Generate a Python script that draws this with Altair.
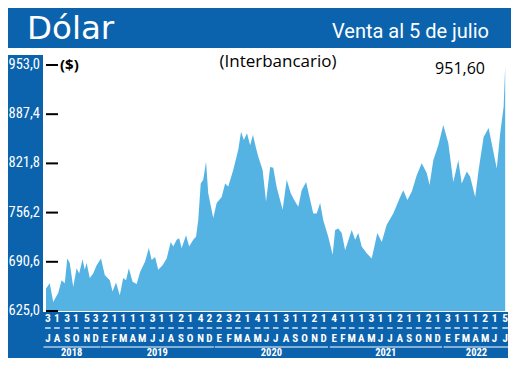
import altair as alt
import pandas as pd

# ---------------- data ----------------
dates = [
    "2018-06-27", "2018-07-09", "2018-07-20", "2018-08-05", "2018-08-16", "2018-08-26",
    "2018-09-03", "2018-09-11", "2018-09-22", "2018-10-03", "2018-10-11", "2018-10-22",
    "2018-10-29", "2018-11-04", "2018-11-14", "2018-11-25", "2018-12-06", "2018-12-20",
    "2019-01-01", "2019-01-17", "2019-01-26", "2019-02-06", "2019-02-18", "2019-03-01",
    "2019-03-10", "2019-03-19", "2019-03-31", "2019-04-13", "2019-04-24", "2019-05-10",
    "2019-05-22", "2019-05-31", "2019-06-11", "2019-06-21", "2019-07-05", "2019-07-18",
    "2019-07-31", "2019-08-08", "2019-08-19", "2019-08-27", "2019-09-04", "2019-09-18",
    "2019-09-28", "2019-10-11", "2019-10-20", "2019-10-27", "2019-11-04", "2019-11-12",
    "2019-11-21", "2019-11-28", "2019-12-14", "2019-12-25", "2020-01-10", "2020-01-21",
    "2020-01-31", "2020-02-16", "2020-03-03", "2020-03-12", "2020-03-21", "2020-03-31",
    "2020-04-10", "2020-04-19", "2020-04-29", "2020-05-06", "2020-05-20", "2020-05-31",
    "2020-06-13", "2020-06-23", "2020-07-04", "2020-07-23", "2020-08-05", "2020-08-18",
    "2020-08-29", "2020-09-11", "2020-09-22", "2020-10-06", "2020-10-17", "2020-10-29",
    "2020-11-09", "2020-11-20", "2020-11-30", "2020-12-16", "2020-12-30", "2021-01-07",
    "2021-01-17", "2021-01-28", "2021-02-08", "2021-03-01", "2021-03-12", "2021-03-22",
    "2021-04-02", "2021-04-18", "2021-05-04", "2021-05-22", "2021-06-05", "2021-06-21",
    "2021-07-12", "2021-08-03", "2021-08-13", "2021-08-26", "2021-09-09", "2021-09-25",
    "2021-10-11", "2021-10-27", "2021-11-05", "2021-11-17", "2021-12-03", "2021-12-19",
    "2022-01-04", "2022-01-20", "2022-02-05", "2022-02-16", "2022-03-04", "2022-03-15",
    "2022-03-31", "2022-04-11", "2022-04-27", "2022-05-13", "2022-05-27", "2022-06-08",
    "2022-06-19", "2022-06-30", "2022-07-05",
]
values = [
    655, 662, 637, 649, 666, 662,
    695, 689, 657, 682, 675, 694,
    680, 689, 669, 675, 686, 695,
    673, 666, 651, 663, 646, 669,
    666, 682, 664, 661, 677, 691,
    709, 693, 697, 680, 686, 695,
    717, 711, 720, 722, 709, 726,
    711, 720, 724, 746, 795, 800,
    824, 782, 749, 769, 777, 795,
    791, 813, 840, 864, 853, 862,
    846, 860, 842, 831, 813, 771,
    817, 816, 790, 760, 800, 782,
    773, 764, 786, 797, 777, 755,
    755, 769, 746, 724, 700, 733,
    735, 729, 706, 733, 720, 729,
    711, 702, 695, 729, 717, 740,
    755, 777, 786, 773, 784, 806,
    822, 809, 793, 826, 846, 873,
    849, 797, 826, 795, 811, 804,
    777, 813, 857, 869, 840, 815,
    862, 897, 951.6,
]

y_ticks = [625.0, 690.6, 756.2, 821.8, 887.4, 953.0]
y_tick_labels = ["625,0", "690,6", "756,2", "821,8", "887,4", "953,0"]

month_years = [2018] * 6 + [2019] * 12 + [2020] * 12 + [2021] * 12 + [2022] * 7
month_nums = list(range(7, 13)) + list(range(1, 13)) * 3 + list(range(1, 8))
month_days = [3, 1, 3, 1, 5, 3,
              2, 1, 1, 1, 1, 3, 1, 1, 2, 1, 4, 2,
              2, 3, 2, 1, 4, 1, 1, 3, 1, 1, 2, 1,
              4, 1, 1, 1, 3, 1, 1, 2, 1, 1, 2, 1,
              3, 1, 1, 1, 2, 1, 5]
month_letters = ["J", "A", "S", "O", "N", "D"] + \
    ["E", "F", "M", "A", "M", "J", "J", "A", "S", "O", "N", "D"] * 3 + \
    ["E", "F", "M", "A", "M", "J", "J"]

title_text = "Dólar"
subtitle_text = "Venta al 5 de julio"
unit_text = "($)"
market_text = "(Interbancario)"
last_text = "951,60"

# ---------------- styling ----------------
BLUE = "#0b63ad"
AREA = "#55b3e4"
NARROW = "Liberation Sans Narrow, Roboto Condensed, DejaVu Sans Condensed, sans-serif"
W, H = 462, 256
Y_LO, Y_HI = 625, 966.3


def y_at(px):
    """value on the shared y scale that lands px pixels below the plot top"""
    return Y_HI - (Y_HI - Y_LO) * px / H


def ms(ts):
    return (ts - pd.Timestamp("1970-01-01")) // pd.Timedelta(milliseconds=1)


series = pd.DataFrame({"date": dates, "value": values})
ticks_df = pd.DataFrame({"v": y_ticks, "lab": y_tick_labels})
months = pd.DataFrame({"year": month_years, "m": month_nums, "day": month_days,
                       "letter": month_letters})
mdates = pd.to_datetime(dict(year=months.year, month=months.m, day=months.day))
months["date"] = mdates.dt.strftime("%Y-%m-%d")
months["digit"] = months["day"].astype(str)
half = pd.Timedelta(days=9)
months["d0"] = ms(mdates - half)
months["d1"] = ms(mdates + half)

g = pd.DataFrame({"year": month_years, "d": mdates}).groupby("year")["d"].agg(["min", "max"])
pad = pd.Timedelta(days=14)
yr = pd.DataFrame({
    "label": g.index.astype(str),
    "mid": (g["min"] + (g["max"] - g["min"]) / 2).dt.strftime("%Y-%m-%d").values,
    "s": ms(g["min"] - pad).values,
    "e": ms(g["max"] + pad).values,
})

xscale = alt.Scale(domain=[alt.DateTime(year=2018, month=6, date=27),
                           alt.DateTime(year=2022, month=7, date=14)])
yscale = alt.Scale(domain=[Y_LO, Y_HI], nice=False, zero=False)

one = pd.DataFrame({"k": [0]})


def rect(x, x2, y, y2, color=BLUE):
    return alt.Chart(one).mark_rect(color=color).encode(
        x=alt.value(x), x2=alt.value(x2), y=alt.value(y), y2=alt.value(y2))


header = rect(-38, 465, -47, -7)
left_strip = rect(-38, -3, 0, 303)
bottom_band = rect(-38, 462, 257, 303)

area = alt.Chart(series).mark_area(color=AREA, clip=True).encode(
    x=alt.X("date:T", scale=xscale,
            axis=alt.Axis(labels=False, ticks=False, grid=False, title=None,
                          domainColor="black", domainWidth=2, zindex=2)),
    y=alt.Y("value:Q", scale=yscale,
            axis=alt.Axis(values=y_ticks, labels=False, ticks=False, grid=False,
                          title=None, domainColor="black", domainWidth=2, zindex=2)),
)

tick_rules = alt.Chart(ticks_df).mark_rule(color="black", strokeWidth=2).encode(
    y=alt.Y("v:Q", scale=yscale, axis=None), x=alt.value(0), x2=alt.value(12))

tick_labels = alt.Chart(ticks_df).mark_text(color="white", font=NARROW, fontSize=14.5,
                                            align="right", baseline="middle").encode(
    y=alt.Y("v:Q", scale=yscale, axis=None), x=alt.value(-6), text="lab:N")

digits = alt.Chart(months).mark_text(color="white", font=NARROW, fontSize=11.5,
                                     fontWeight="bold", baseline="middle").encode(
    x=alt.X("date:T", scale=xscale, axis=None), y=alt.value(264), text="digit:N")

dashes = alt.Chart(months).mark_rule(color="white", strokeWidth=1.3).encode(
    x=alt.X("d0:T", scale=xscale, axis=None), x2="d1",
    y=alt.datum(y_at(273)))

letters = alt.Chart(months).mark_text(color="white", font=NARROW, fontSize=11,
                                      fontWeight="bold", baseline="middle").encode(
    x=alt.X("date:T", scale=xscale, axis=None), y=alt.value(284), text="letter:N")

year_lines = alt.Chart(yr).mark_rule(color="white", strokeWidth=1).encode(
    x=alt.X("s:T", scale=xscale, axis=None), x2="e",
    y=alt.datum(y_at(292)))

year_labels = alt.Chart(yr).mark_text(color="white", font=NARROW, fontSize=10.5,
                                      fontWeight="bold", baseline="middle").encode(
    x=alt.X("mid:T", scale=xscale, axis=None), y=alt.value(298), text="label:N")


def label(text, x, y, size, color="black", align="left", font="Open Sans",
          weight="normal", baseline="middle"):
    return alt.Chart(one).mark_text(text=text, fontSize=size, color=color, align=align,
                                    baseline=baseline, font=font, fontWeight=weight).encode(
        x=alt.value(x), y=alt.value(y))


t_title = label(title_text, -19, -16, 32.5, color="white", font="DejaVu Sans",
                baseline="alphabetic")
t_sub = label(subtitle_text, 443, -17, 20, color="white", align="right", font="Roboto",
              baseline="alphabetic")
t_unit = label(unit_text, 14, 10, 15, weight="bold")
t_market = label(market_text, 232, 7, 17, align="center")
t_last = label(last_text, 439, 14, 16, align="right")

chart = alt.layer(
    header, left_strip, bottom_band, area, tick_rules, tick_labels,
    digits, dashes, letters, year_lines, year_labels,
    t_title, t_sub, t_unit, t_market, t_last,
).properties(
    width=W, height=H,
    padding={"left": 38, "top": 47, "right": 3, "bottom": 47},
    autosize=alt.AutoSizeParams(type="none"),
    background="white",
).configure_view(stroke=None)

chart.save("out.html", embed_options={"renderer": "svg", "actions": False})
